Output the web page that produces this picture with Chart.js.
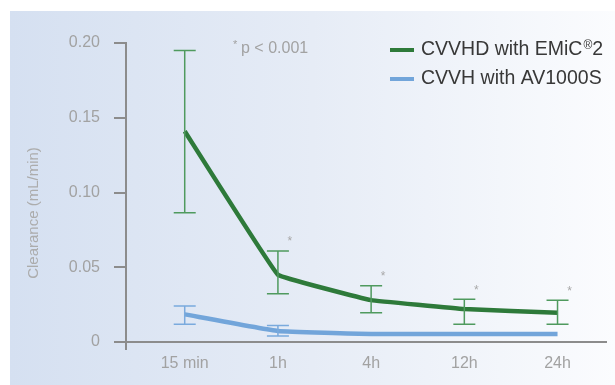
<!DOCTYPE html>
<html>
<head>
<meta charset="utf-8">
<script src="https://cdn.jsdelivr.net/npm/chart.js@4/dist/chart.umd.min.js"></script>
<style>
  html, body { margin: 0; padding: 0; background: #fff; }
  #wrap { width: 615px; height: 385px; }
</style>
</head>
<body>
<div id="wrap"><canvas id="chart" width="615" height="385"></canvas></div>
<script>
const categories = ["15 min", "1h", "4h", "12h", "24h"];
const emicMean = [0.141, 0.045, 0.028, 0.022, 0.0195];
const emicLow = [0.0865, 0.0323, 0.0196, 0.0118, 0.0118];
const emicHigh = [0.195, 0.0609, 0.0377, 0.0286, 0.0279];
const avMean = [0.0185, 0.0074, 0.0054, 0.0054, 0.0054];
const avLow = [0.0118, 0.004, null, null, null];
const avHigh = [0.0241, 0.011, null, null, null];
const significant = [false, true, true, true, true];
const yTicks = [0, 0.05, 0.10, 0.15, 0.20];

const FONT = "'Liberation Sans', Arial, Helvetica, sans-serif";
const GREEN = "#2e7a3a";
const BLUE = "#72a5da";
const AXIS = "#8c8c8c";
const LABEL = "#a2a2a2";

function toPoints(values) {
    return values.map((v, i) => ({ x: i, y: v }));
}

const errorSets = [
    { low: emicLow, high: emicHigh, color: "#4f9a5e" },
    { low: avLow, high: avHigh, color: "#7aaadd" }
];

const extras = {
    id: "extras",
    beforeDraw(chart) {
        const ctx = chart.ctx;
        const g = ctx.createLinearGradient(10, 0, 615, 0);
        g.addColorStop(0, "#d5e0f1");
        g.addColorStop(0.5, "#e6ecf6");
        g.addColorStop(1, "#fbfcfe");
        ctx.save();
        ctx.fillStyle = g;
        ctx.fillRect(10, 11, 605, 374);
        ctx.restore();
    },
    afterDatasetsDraw(chart) {
        const ctx = chart.ctx;
        const xs = chart.scales.x, ys = chart.scales.y;
        ctx.save();
        // error bars
        errorSets.forEach(set => {
            ctx.strokeStyle = set.color;
            ctx.lineWidth = 1.5;
            set.low.forEach((lo, i) => {
                const hi = set.high[i];
                if (lo == null || hi == null) return;
                const px = xs.getPixelForValue(i);
                const y1 = ys.getPixelForValue(lo);
                const y2 = ys.getPixelForValue(hi);
                ctx.beginPath();
                ctx.moveTo(px, y1); ctx.lineTo(px, y2);
                ctx.moveTo(px - 11, y1); ctx.lineTo(px + 11, y1);
                ctx.moveTo(px - 11, y2); ctx.lineTo(px + 11, y2);
                ctx.stroke();
            });
        });
        // significance stars
        ctx.fillStyle = "#a8a8a8";
        ctx.font = "12px " + FONT;
        ctx.textAlign = "center";
        ctx.textBaseline = "middle";
        significant.forEach((s, i) => {
            if (!s) return;
            const px = xs.getPixelForValue(i) + 12;
            const py = ys.getPixelForValue(emicHigh[i]) - 9;
            ctx.fillText("*", px, py);
        });
        ctx.restore();
    },
    afterDraw(chart) {
        const ctx = chart.ctx;
        const area = chart.chartArea;
        ctx.save();
        // y axis runs a little below the x axis
        ctx.strokeStyle = AXIS;
        ctx.lineWidth = 2;
        ctx.beginPath();
        ctx.moveTo(area.left, area.bottom);
        ctx.lineTo(area.left, area.bottom + 8);
        ctx.stroke();

        // y axis title
        ctx.fillStyle = "#acacac";
        ctx.font = "15px " + FONT;
        ctx.textAlign = "center";
        ctx.textBaseline = "middle";
        ctx.translate(34, 213);
        ctx.rotate(-Math.PI / 2);
        ctx.fillText("Clearance (mL/min)", 0, 0);
        ctx.setTransform(1, 0, 0, 1, 0, 0);

        // p value note
        ctx.textAlign = "left";
        ctx.fillStyle = "#a2a2a2";
        ctx.font = "11px " + FONT;
        ctx.fillText("*", 233, 45);
        ctx.font = "16px " + FONT;
        ctx.fillText("p < 0.001", 241, 49);

        // legend
        const rows = [50, 79];
        chart.data.datasets.forEach((ds, k) => {
            const y = rows[k];
            ctx.strokeStyle = ds.borderColor;
            ctx.lineWidth = 4;
            ctx.beginPath();
            ctx.moveTo(390, y); ctx.lineTo(414, y);
            ctx.stroke();
            ctx.fillStyle = "#383838";
            ctx.textBaseline = "middle";
            let x = 421;
            const parts = ds.label.split("®");
            parts.forEach((p, j) => {
                ctx.font = "19.5px " + FONT;
                ctx.fillText(p, x, y);
                x += ctx.measureText(p).width;
                if (j < parts.length - 1) {
                    ctx.font = "12px " + FONT;
                    ctx.fillText("®", x + 1, y - 4);
                    x += ctx.measureText("®").width + 1;
                }
            });
        });
        ctx.restore();
    }
};

new Chart(document.getElementById("chart"), {
    type: "line",
    data: {
        datasets: [
            {
                label: "CVVHD with EMiC®2",
                data: toPoints(emicMean),
                borderColor: GREEN,
                borderWidth: 4.5,
                borderJoinStyle: "round",
                pointRadius: 0,
                tension: 0.05
            },
            {
                label: "CVVH with AV1000S",
                data: toPoints(avMean),
                borderColor: BLUE,
                borderWidth: 4.5,
                borderJoinStyle: "round",
                pointRadius: 0,
                tension: 0.1
            }
        ]
    },
    options: {
        responsive: false,
        animation: false,
        devicePixelRatio: 1,
        layout: { padding: { top: 43, right: 9, left: 0, bottom: 0 } },
        plugins: { legend: { display: false }, tooltip: { enabled: false } },
        scales: {
            x: {
                type: "linear",
                min: -0.63,
                max: 4.52,
                afterBuildTicks: scale => { scale.ticks = categories.map((c, i) => ({ value: i })); },
                afterFit: scale => { scale.height = 43; },
                grid: { display: false },
                border: { display: true, color: AXIS, width: 2 },
                ticks: {
                    color: LABEL,
                    font: { family: FONT, size: 16 },
                    padding: 4,
                    maxRotation: 0,
                    callback: v => categories[v]
                }
            },
            y: {
                min: 0,
                max: 0.2,
                afterBuildTicks: scale => { scale.ticks = yTicks.map(v => ({ value: v })); },
                afterFit: scale => { scale.width = 126; },
                grid: { drawOnChartArea: false, drawTicks: true, tickLength: 12, color: AXIS, lineWidth: 2 },
                border: { display: true, color: AXIS, width: 2 },
                ticks: {
                    color: LABEL,
                    font: { family: FONT, size: 16 },
                    padding: 14,
                    callback: v => v === 0 ? "0" : v.toFixed(2)
                }
            }
        }
    },
    plugins: [extras]
});
</script>
</body>
</html>
